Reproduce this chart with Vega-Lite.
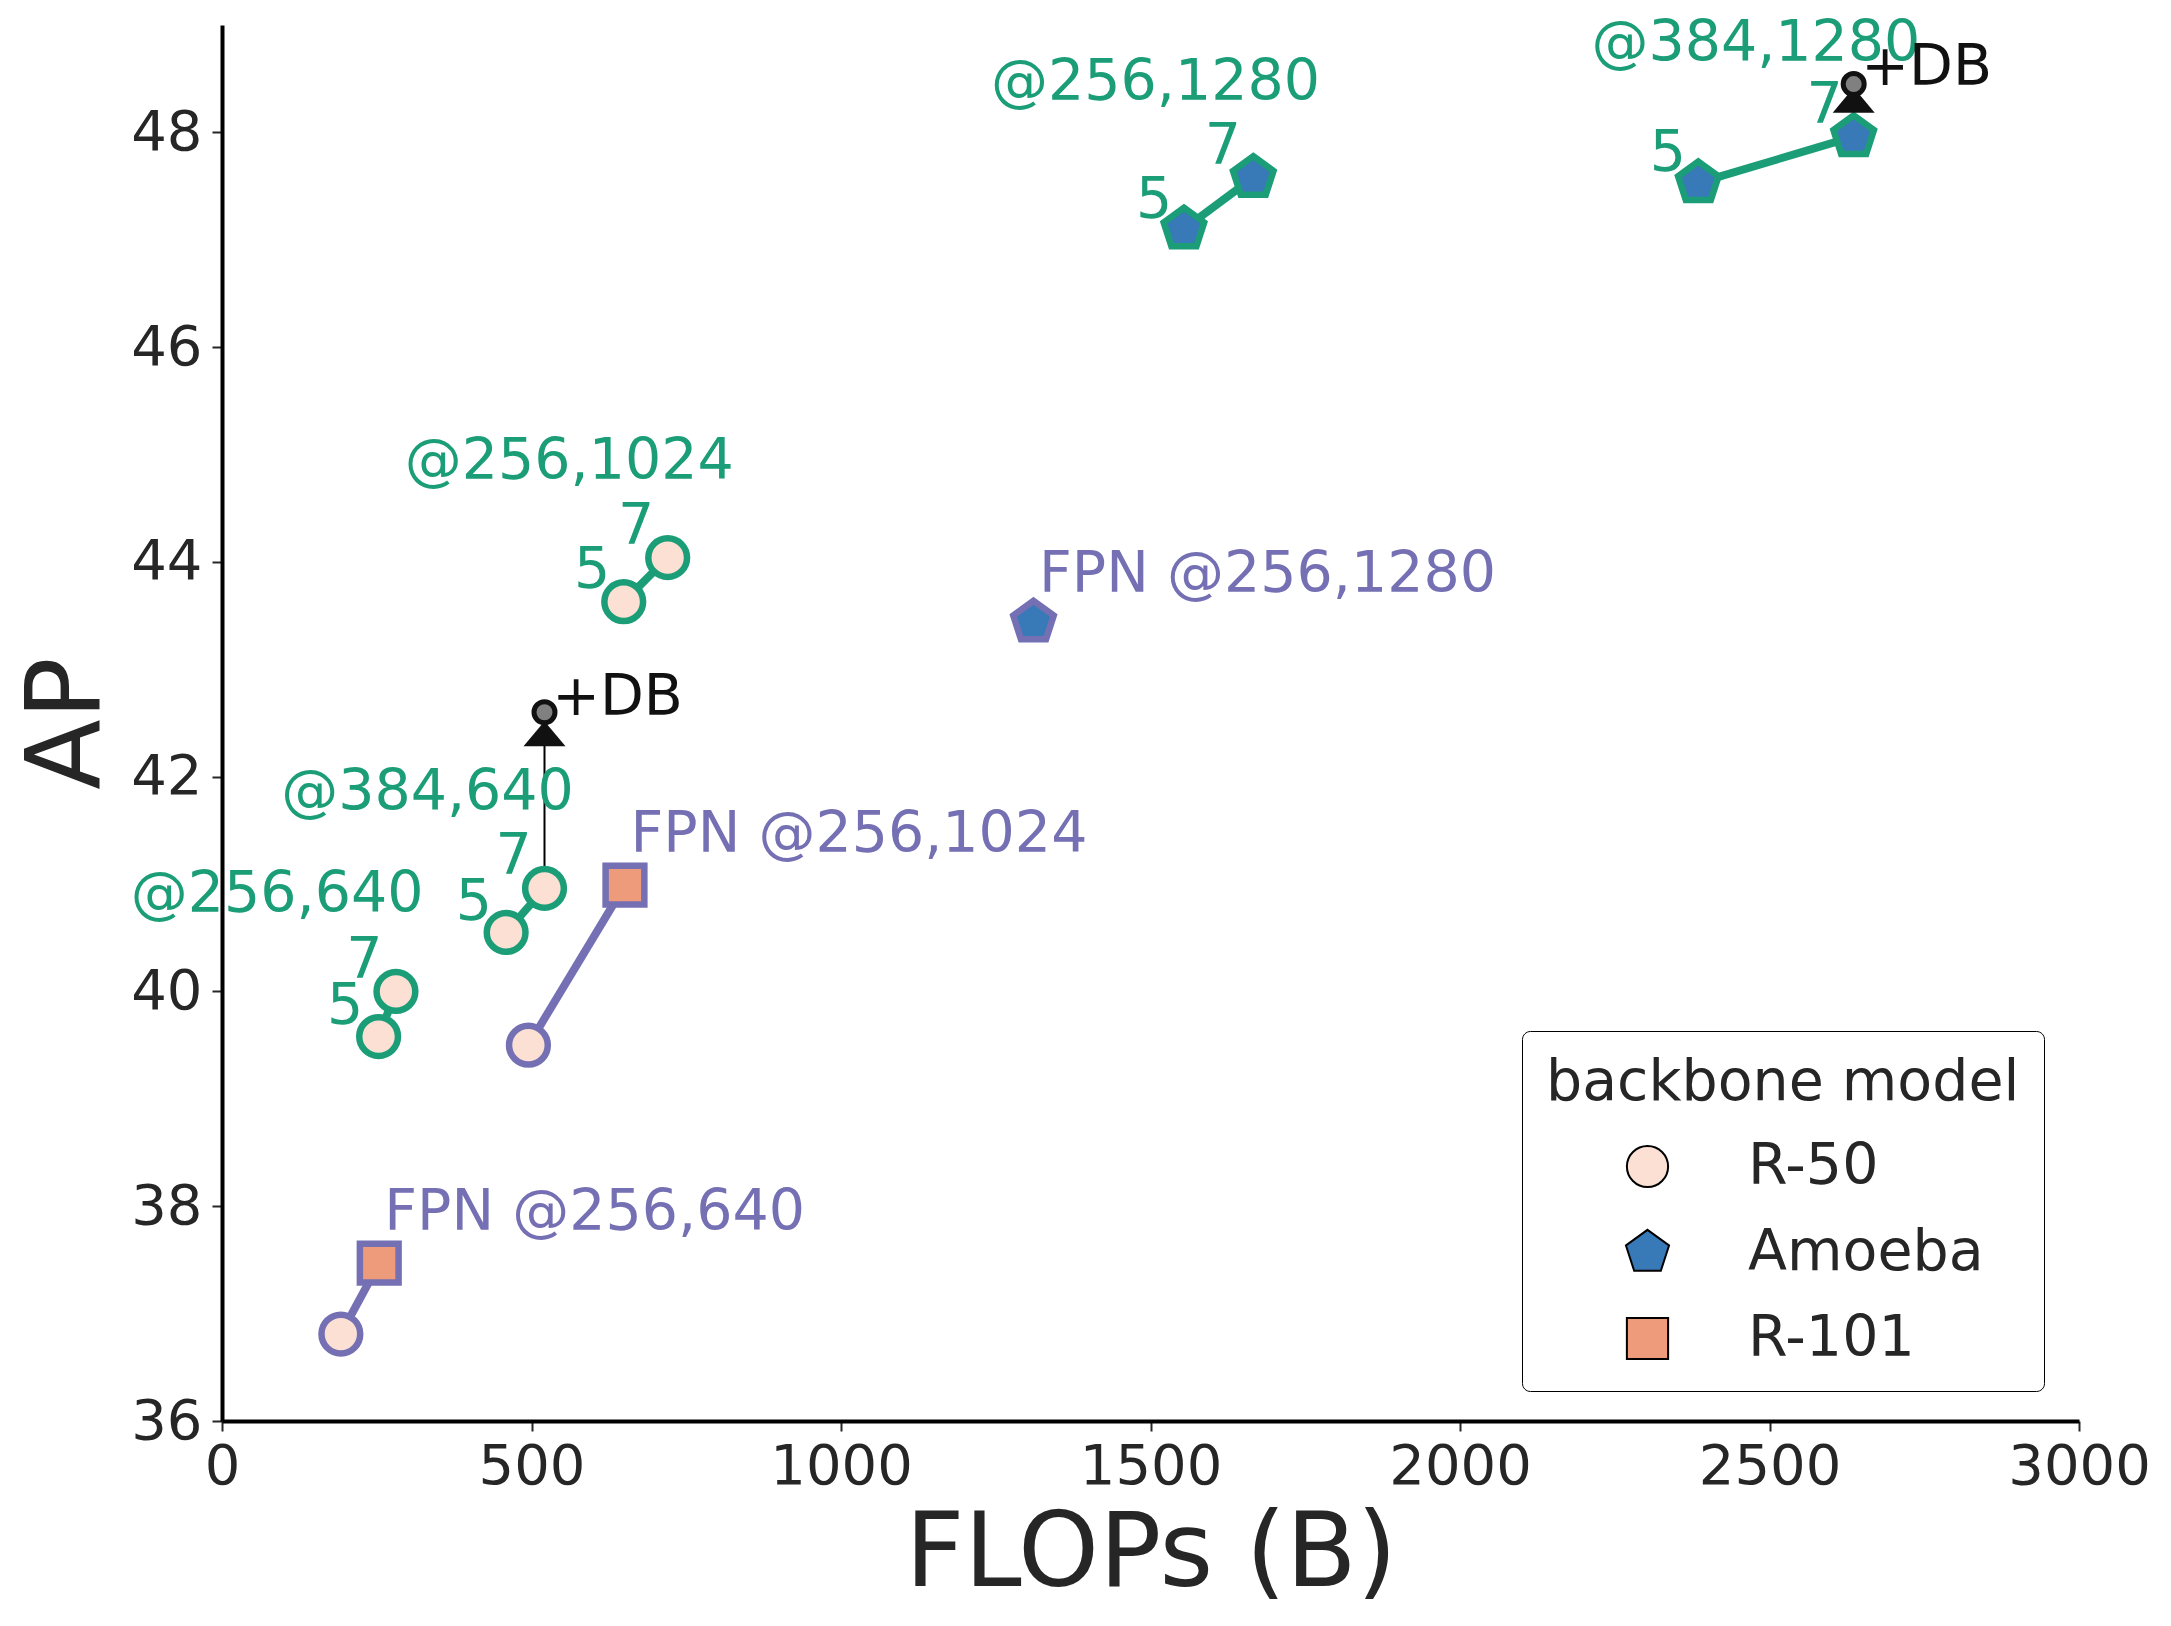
{
  "$schema": "https://vega.github.io/schema/vega-lite/v6.json",
  "autosize": {"type": "none"},
  "width": 1857,
  "height": 1396,
  "padding": {"left": 222, "top": 25, "right": 92, "bottom": 205},
  "background": "white",
  "config": {
    "font": "DejaVu Sans",
    "view": {"stroke": null},
    "axis": {"grid": false},
    "legend": {"symbolStrokeWidth": 2}
  },
  "datasets": {
    "pts": [
      {"flops": 253, "ap": 39.58, "backbone": "R-50", "family": "NAS-FPN", "config": "@256,640"},
      {"flops": 281, "ap": 40.0, "backbone": "R-50", "family": "NAS-FPN", "config": "@256,640"},
      {"flops": 459, "ap": 40.55, "backbone": "R-50", "family": "NAS-FPN", "config": "@384,640"},
      {"flops": 521, "ap": 40.96, "backbone": "R-50", "family": "NAS-FPN", "config": "@384,640"},
      {"flops": 649, "ap": 43.63, "backbone": "R-50", "family": "NAS-FPN", "config": "@256,1024"},
      {"flops": 720, "ap": 44.04, "backbone": "R-50", "family": "NAS-FPN", "config": "@256,1024"},
      {"flops": 1554, "ap": 47.1, "backbone": "Amoeba", "family": "NAS-FPN", "config": "@256,1280"},
      {"flops": 1666, "ap": 47.58, "backbone": "Amoeba", "family": "NAS-FPN", "config": "@256,1280"},
      {"flops": 2385, "ap": 47.53, "backbone": "Amoeba", "family": "NAS-FPN", "config": "@384,1280"},
      {"flops": 2636, "ap": 47.96, "backbone": "Amoeba", "family": "NAS-FPN", "config": "@384,1280"},
      {"flops": 192, "ap": 36.81, "backbone": "R-50", "family": "FPN", "config": "FPN @256,640"},
      {"flops": 254, "ap": 37.47, "backbone": "R-101", "family": "FPN", "config": "FPN @256,640"},
      {"flops": 495, "ap": 39.5, "backbone": "R-50", "family": "FPN", "config": "FPN @256,1024"},
      {"flops": 651, "ap": 40.99, "backbone": "R-101", "family": "FPN", "config": "FPN @256,1024"},
      {"flops": 1311, "ap": 43.44, "backbone": "Amoeba", "family": "FPN", "config": "FPN @256,1280"}
    ],
    "db": [
      {"flops": 521, "from": 40.96, "to": 42.4, "db": 42.6},
      {"flops": 2636, "from": 47.96, "to": 48.3, "db": 48.45}
    ],
    "labels": [
      {"flops": 89, "ap": 40.94, "text": "@256,640", "group": "NAS-FPN"},
      {"flops": 230, "ap": 40.32, "text": "7", "group": "NAS-FPN"},
      {"flops": 199, "ap": 39.89, "text": "5", "group": "NAS-FPN"},
      {"flops": 332, "ap": 41.89, "text": "@384,640", "group": "NAS-FPN"},
      {"flops": 471, "ap": 41.29, "text": "7", "group": "NAS-FPN"},
      {"flops": 407, "ap": 40.86, "text": "5", "group": "NAS-FPN"},
      {"flops": 561, "ap": 44.97, "text": "@256,1024", "group": "NAS-FPN"},
      {"flops": 669, "ap": 44.36, "text": "7", "group": "NAS-FPN"},
      {"flops": 598, "ap": 43.95, "text": "5", "group": "NAS-FPN"},
      {"flops": 1508, "ap": 48.5, "text": "@256,1280", "group": "NAS-FPN"},
      {"flops": 1617, "ap": 47.9, "text": "7", "group": "NAS-FPN"},
      {"flops": 1506, "ap": 47.4, "text": "5", "group": "NAS-FPN"},
      {"flops": 2478, "ap": 48.86, "text": "@384,1280", "group": "NAS-FPN"},
      {"flops": 2589, "ap": 48.28, "text": "7", "group": "NAS-FPN"},
      {"flops": 2336, "ap": 47.84, "text": "5", "group": "NAS-FPN"},
      {"flops": 602, "ap": 37.97, "text": "FPN @256,640", "group": "FPN"},
      {"flops": 1029, "ap": 41.49, "text": "FPN @256,1024", "group": "FPN"},
      {"flops": 1689, "ap": 43.92, "text": "FPN @256,1280", "group": "FPN"},
      {"flops": 639, "ap": 42.77, "text": "+DB", "group": "DB"},
      {"flops": 2754, "ap": 48.64, "text": "+DB", "group": "DB"}
    ]
  },
  "layer": [
    {
      "data": {"name": "pts"},
      "mark": {"type": "line", "strokeWidth": 8, "strokeCap": "butt"},
      "encoding": {
        "x": {
          "field": "flops", "type": "quantitative",
          "scale": {"domain": [0, 3000], "nice": false, "zero": false},
          "axis": {
            "title": "FLOPs (B)", "values": [0, 500, 1000, 1500, 2000, 2500, 3000], "format": "d", "labelFlush": false,
            "titleFontSize": 103, "titleFontWeight": "normal", "titleColor": "#262626", "titlePadding": 10,
            "labelFontSize": 56, "labelColor": "#262626", "labelPadding": 8,
            "domainColor": "black", "domainWidth": 4, "tickColor": "#262626", "tickWidth": 2, "tickSize": 10
          }
        },
        "y": {
          "field": "ap", "type": "quantitative",
          "scale": {"domain": [36, 49], "nice": false, "zero": false},
          "axis": {
            "title": "AP", "values": [36, 38, 40, 42, 44, 46, 48], "format": "d", "labelFlush": false,
            "titleFontSize": 103, "titleFontWeight": "normal", "titleColor": "#262626", "titlePadding": 10,
            "labelFontSize": 56, "labelColor": "#262626", "labelPadding": 10,
            "domainColor": "black", "domainWidth": 4, "tickColor": "#262626", "tickWidth": 2, "tickSize": 10
          }
        },
        "detail": {"field": "config"},
        "stroke": {
          "field": "family", "type": "nominal",
          "scale": {"domain": ["NAS-FPN", "FPN"], "range": ["#1b9e77", "#7570b3"]},
          "legend": null
        }
      }
    },
    {
      "data": {"name": "db"},
      "mark": {"type": "rule", "color": "black", "strokeWidth": 2},
      "encoding": {
        "x": {"field": "flops", "type": "quantitative"},
        "y": {"field": "from", "type": "quantitative"},
        "y2": {"field": "to"}
      }
    },
    {
      "data": {"name": "pts"},
      "transform": [{"filter": "false"}],
      "mark": {"type": "point", "filled": true, "stroke": "black", "strokeWidth": 2, "opacity": 1},
      "encoding": {
        "x": {"field": "flops", "type": "quantitative"},
        "y": {"field": "ap", "type": "quantitative"},
        "shape": {
          "field": "backbone", "type": "nominal", "title": "backbone model",
          "scale": {"domain": ["R-50", "Amoeba", "R-101"], "range": ["circle", "M0,-1.1L1.046,-0.34L0.647,0.89L-0.647,0.89L-1.046,-0.34Z", "square"]},
          "legend": {
            "orient": "none", "legendX": 1300, "legendY": 1006,
            "padding": 24, "cornerRadius": 8, "strokeColor": "black", "fillColor": "white",
            "titleFontSize": 57, "titleFontWeight": "normal", "titleColor": "#262626", "titlePadding": 26, "titleLimit": 2000,
            "labelFontSize": 57, "labelColor": "#262626", "labelOffset": 72, "labelLimit": 2000,
            "symbolSize": 1700, "symbolOffset": 73, "symbolStrokeWidth": 2,
            "rowPadding": 28
          }
        },
        "fill": {
          "field": "backbone", "type": "nominal", "title": "backbone model",
          "scale": {"domain": ["R-50", "Amoeba", "R-101"], "range": ["#fce0d3", "#3879b8", "#ee9b7b"]}
        }
      }
    },
    {
      "data": {"name": "pts"},
      "transform": [{"filter": "datum.family === 'NAS-FPN'"}],
      "mark": {"type": "point", "filled": true, "size": 1500, "stroke": "#1b9e77", "strokeWidth": 6.5, "opacity": 1},
      "encoding": {
        "x": {"field": "flops", "type": "quantitative"},
        "y": {"field": "ap", "type": "quantitative"},
        "shape": {"field": "backbone", "type": "nominal", "title": "backbone model"},
        "fill": {"field": "backbone", "type": "nominal", "title": "backbone model"}
      }
    },
    {
      "data": {"name": "pts"},
      "transform": [{"filter": "datum.family === 'FPN'"}],
      "mark": {"type": "point", "filled": true, "size": 1500, "stroke": "#7570b3", "strokeWidth": 6.5, "opacity": 1},
      "encoding": {
        "x": {"field": "flops", "type": "quantitative"},
        "y": {"field": "ap", "type": "quantitative"},
        "shape": {"field": "backbone", "type": "nominal", "title": "backbone model"},
        "fill": {"field": "backbone", "type": "nominal", "title": "backbone model"}
      }
    },
    {
      "data": {"name": "db"},
      "mark": {"type": "point", "filled": true, "shape": "M0,-0.6L1,0.6L-1,0.6Z", "size": 1764, "color": "#111111", "opacity": 1},
      "encoding": {
        "x": {"field": "flops", "type": "quantitative"},
        "y": {"field": "to", "type": "quantitative"}
      }
    },
    {
      "data": {"name": "db"},
      "mark": {"type": "point", "shape": "circle", "size": 441, "fill": "#808080", "stroke": "#111111", "strokeWidth": 5, "opacity": 1},
      "encoding": {
        "x": {"field": "flops", "type": "quantitative"},
        "y": {"field": "db", "type": "quantitative"}
      }
    },
    {
      "data": {"name": "labels"},
      "mark": {"type": "text", "fontSize": 57, "align": "center", "baseline": "middle", "dy": 4},
      "encoding": {
        "x": {"field": "flops", "type": "quantitative"},
        "y": {"field": "ap", "type": "quantitative"},
        "text": {"field": "text"},
        "color": {
          "field": "group", "type": "nominal",
          "scale": {"domain": ["NAS-FPN", "FPN", "DB"], "range": ["#1b9e77", "#7570b3", "#111111"]},
          "legend": null
        }
      }
    }
  ]
}
